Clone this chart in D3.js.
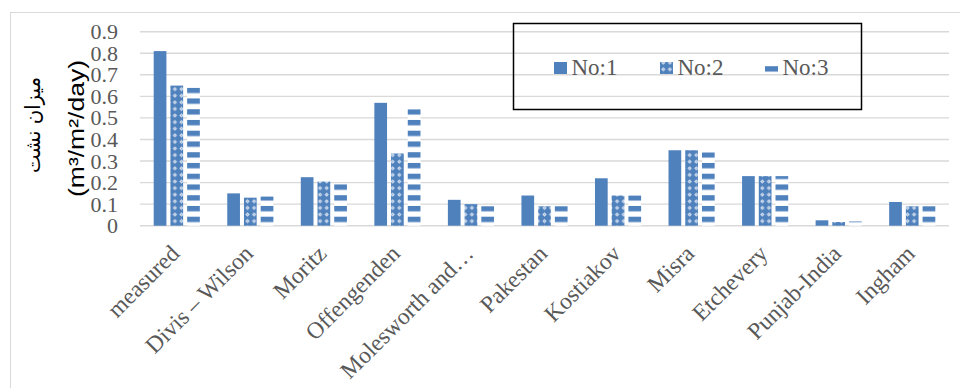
<!DOCTYPE html>
<html>
<head>
<meta charset="utf-8">
<script src="https://cdn.jsdelivr.net/npm/d3@7"></script>
<style>
  html, body { margin: 0; padding: 0; background: #fff; }
  svg { display: block; }
</style>
</head>
<body>
<svg id="chart" width="960" height="388"></svg>
<script>
const categories = ["measured", "Divis – Wilson", "Moritz", "Offengenden", "Molesworth and…", "Pakestan", "Kostiakov", "Misra", "Etchevery", "Punjab-India", "Ingham"];
const seriesNames = ["No:1", "No:2", "No:3"];
const no1 = [0.81, 0.15, 0.225, 0.57, 0.12, 0.14, 0.22, 0.35, 0.23, 0.025, 0.11];
const no2 = [0.65, 0.13, 0.205, 0.335, 0.10, 0.09, 0.14, 0.35, 0.23, 0.017, 0.09];
const no3 = [0.64, 0.135, 0.195, 0.54, 0.09, 0.09, 0.14, 0.34, 0.23, 0.02, 0.09];
const yTicks = [0, 0.1, 0.2, 0.3, 0.4, 0.5, 0.6, 0.7, 0.8, 0.9];
const yTickLabels = ["0", "0.1", "0.2", "0.3", "0.4", "0.5", "0.6", "0.7", "0.8", "0.9"];
const yLabelLine1 = "میزان نشت";
const yLabelLine2 = "(m³/m²/day)";

const values = [no1, no2, no3];
const BLUE = "#4F81BD";
const TEXT = "#595959";
const GRID = "#D9D9D9";

const svg = d3.select("#chart");
const defs = svg.append("defs");

// pattern No:2 : checker/diamond
const p2 = defs.append("pattern").attr("id", "pat2").attr("patternUnits", "userSpaceOnUse")
  .attr("width", 6.6).attr("height", 6.6);
p2.append("rect").attr("width", 6.6).attr("height", 6.6).attr("fill", BLUE);
p2.append("path").attr("d", "M3.3,1.2 L5.4,3.3 L3.3,5.4 L1.2,3.3 Z").attr("fill", "#dfe8f4");
p2.append("path").attr("d", "M3.3,2.4 L4.2,3.3 L3.3,4.2 L2.4,3.3 Z").attr("fill", "#9db6d8");

// pattern No:3 : horizontal stripes
const p3 = defs.append("pattern").attr("id", "pat3").attr("patternUnits", "userSpaceOnUse")
  .attr("x", 0).attr("y", 1.7).attr("width", 20).attr("height", 10.75);
p3.append("rect").attr("width", 20).attr("height", 10.75).attr("fill", "#fff");
p3.append("rect").attr("y", 0).attr("width", 20).attr("height", 5.4).attr("fill", BLUE);

const fills = [BLUE, "url(#pat2)", "url(#pat3)"];

// outer chart border
svg.append("rect").attr("x", 10.5).attr("y", 12.5).attr("width", 1000).attr("height", 500)
  .attr("fill", "none").attr("stroke", GRID).attr("stroke-width", 1);

const plotLeft = 140, plotRight = 949;
const y = d3.scaleLinear().domain([0, 0.9]).range([225.7, 31.7]);
const x = d3.scaleBand().domain(categories).range([plotLeft, plotRight]).padding(0);
const xs = d3.scaleBand().domain(seriesNames).range([0, x.bandwidth()]).paddingInner(0.24).paddingOuter(0.82);

// gridlines
svg.append("g").selectAll("line").data(yTicks).join("line")
  .attr("x1", plotLeft).attr("x2", plotRight)
  .attr("y1", d => y(d)).attr("y2", d => y(d))
  .attr("stroke", GRID).attr("stroke-width", 1.4);

// y tick labels
svg.append("g").selectAll("text").data(yTicks).join("text")
  .attr("x", 118).attr("y", d => y(d)).attr("dy", "0.34em")
  .attr("text-anchor", "end")
  .attr("font-family", "'Liberation Serif', 'Times New Roman', serif")
  .attr("font-size", 22).attr("fill", TEXT)
  .text((d, i) => yTickLabels[i]);

// bars
seriesNames.forEach((s, si) => {
  svg.append("g").selectAll("rect").data(categories).join("rect")
    .attr("x", c => x(c) + xs(s))
    .attr("width", xs.bandwidth())
    .attr("y", (c, i) => y(values[si][i]))
    .attr("height", (c, i) => y(0) - y(values[si][i]))
    .attr("fill", fills[si]);
});

// x labels
svg.append("g").selectAll("text").data(categories).join("text")
  .attr("transform", c => `translate(${x(c) + x.bandwidth() / 2 + 4},255) rotate(-45)`)
  .attr("text-anchor", "end")
  .attr("font-family", "'Liberation Serif', 'Times New Roman', serif")
  .attr("font-size", 23.5).attr("fill", TEXT)
  .text(c => c);

// y axis title
const t1 = svg.append("text")
  .attr("transform", "translate(33,125) rotate(-90)")
  .attr("text-anchor", "middle").attr("dominant-baseline", "central")
  .attr("font-family", "'DejaVu Sans', 'Noto Sans', sans-serif")
  .attr("font-size", 21).attr("fill", "#000").attr("direction", "rtl")
  .text(yLabelLine1);
const len1 = t1.node().getComputedTextLength();
if (len1 > 0) {
  t1.attr("transform", `translate(33,125) rotate(-90) scale(${96 / len1},1)`);
}
svg.append("text")
  .attr("transform", "translate(76,128.5) rotate(-90)")
  .attr("text-anchor", "middle").attr("dominant-baseline", "central")
  .attr("font-family", "'Liberation Sans', Arial, sans-serif")
  .attr("font-size", 22).attr("fill", "#000")
  .attr("textLength", 137).attr("lengthAdjust", "spacingAndGlyphs")
  .text(yLabelLine2);

// legend
const lg = svg.append("g");
lg.append("rect").attr("x", 513.5).attr("y", 23.5).attr("width", 348).attr("height", 86)
  .attr("fill", "none").attr("stroke", "#000").attr("stroke-width", 1.5);
const legX = [554, 660, 765];
seriesNames.forEach((s, i) => {
  lg.append("rect").attr("x", legX[i]).attr("y", 62).attr("width", 13).attr("height", 12)
    .attr("fill", fills[i]);
  lg.append("text").attr("x", legX[i] + 17.5).attr("y", 75)
    .attr("font-family", "'Liberation Serif', 'Times New Roman', serif")
    .attr("font-size", 23).attr("fill", TEXT).text(s);
});
</script>
</body>
</html>
